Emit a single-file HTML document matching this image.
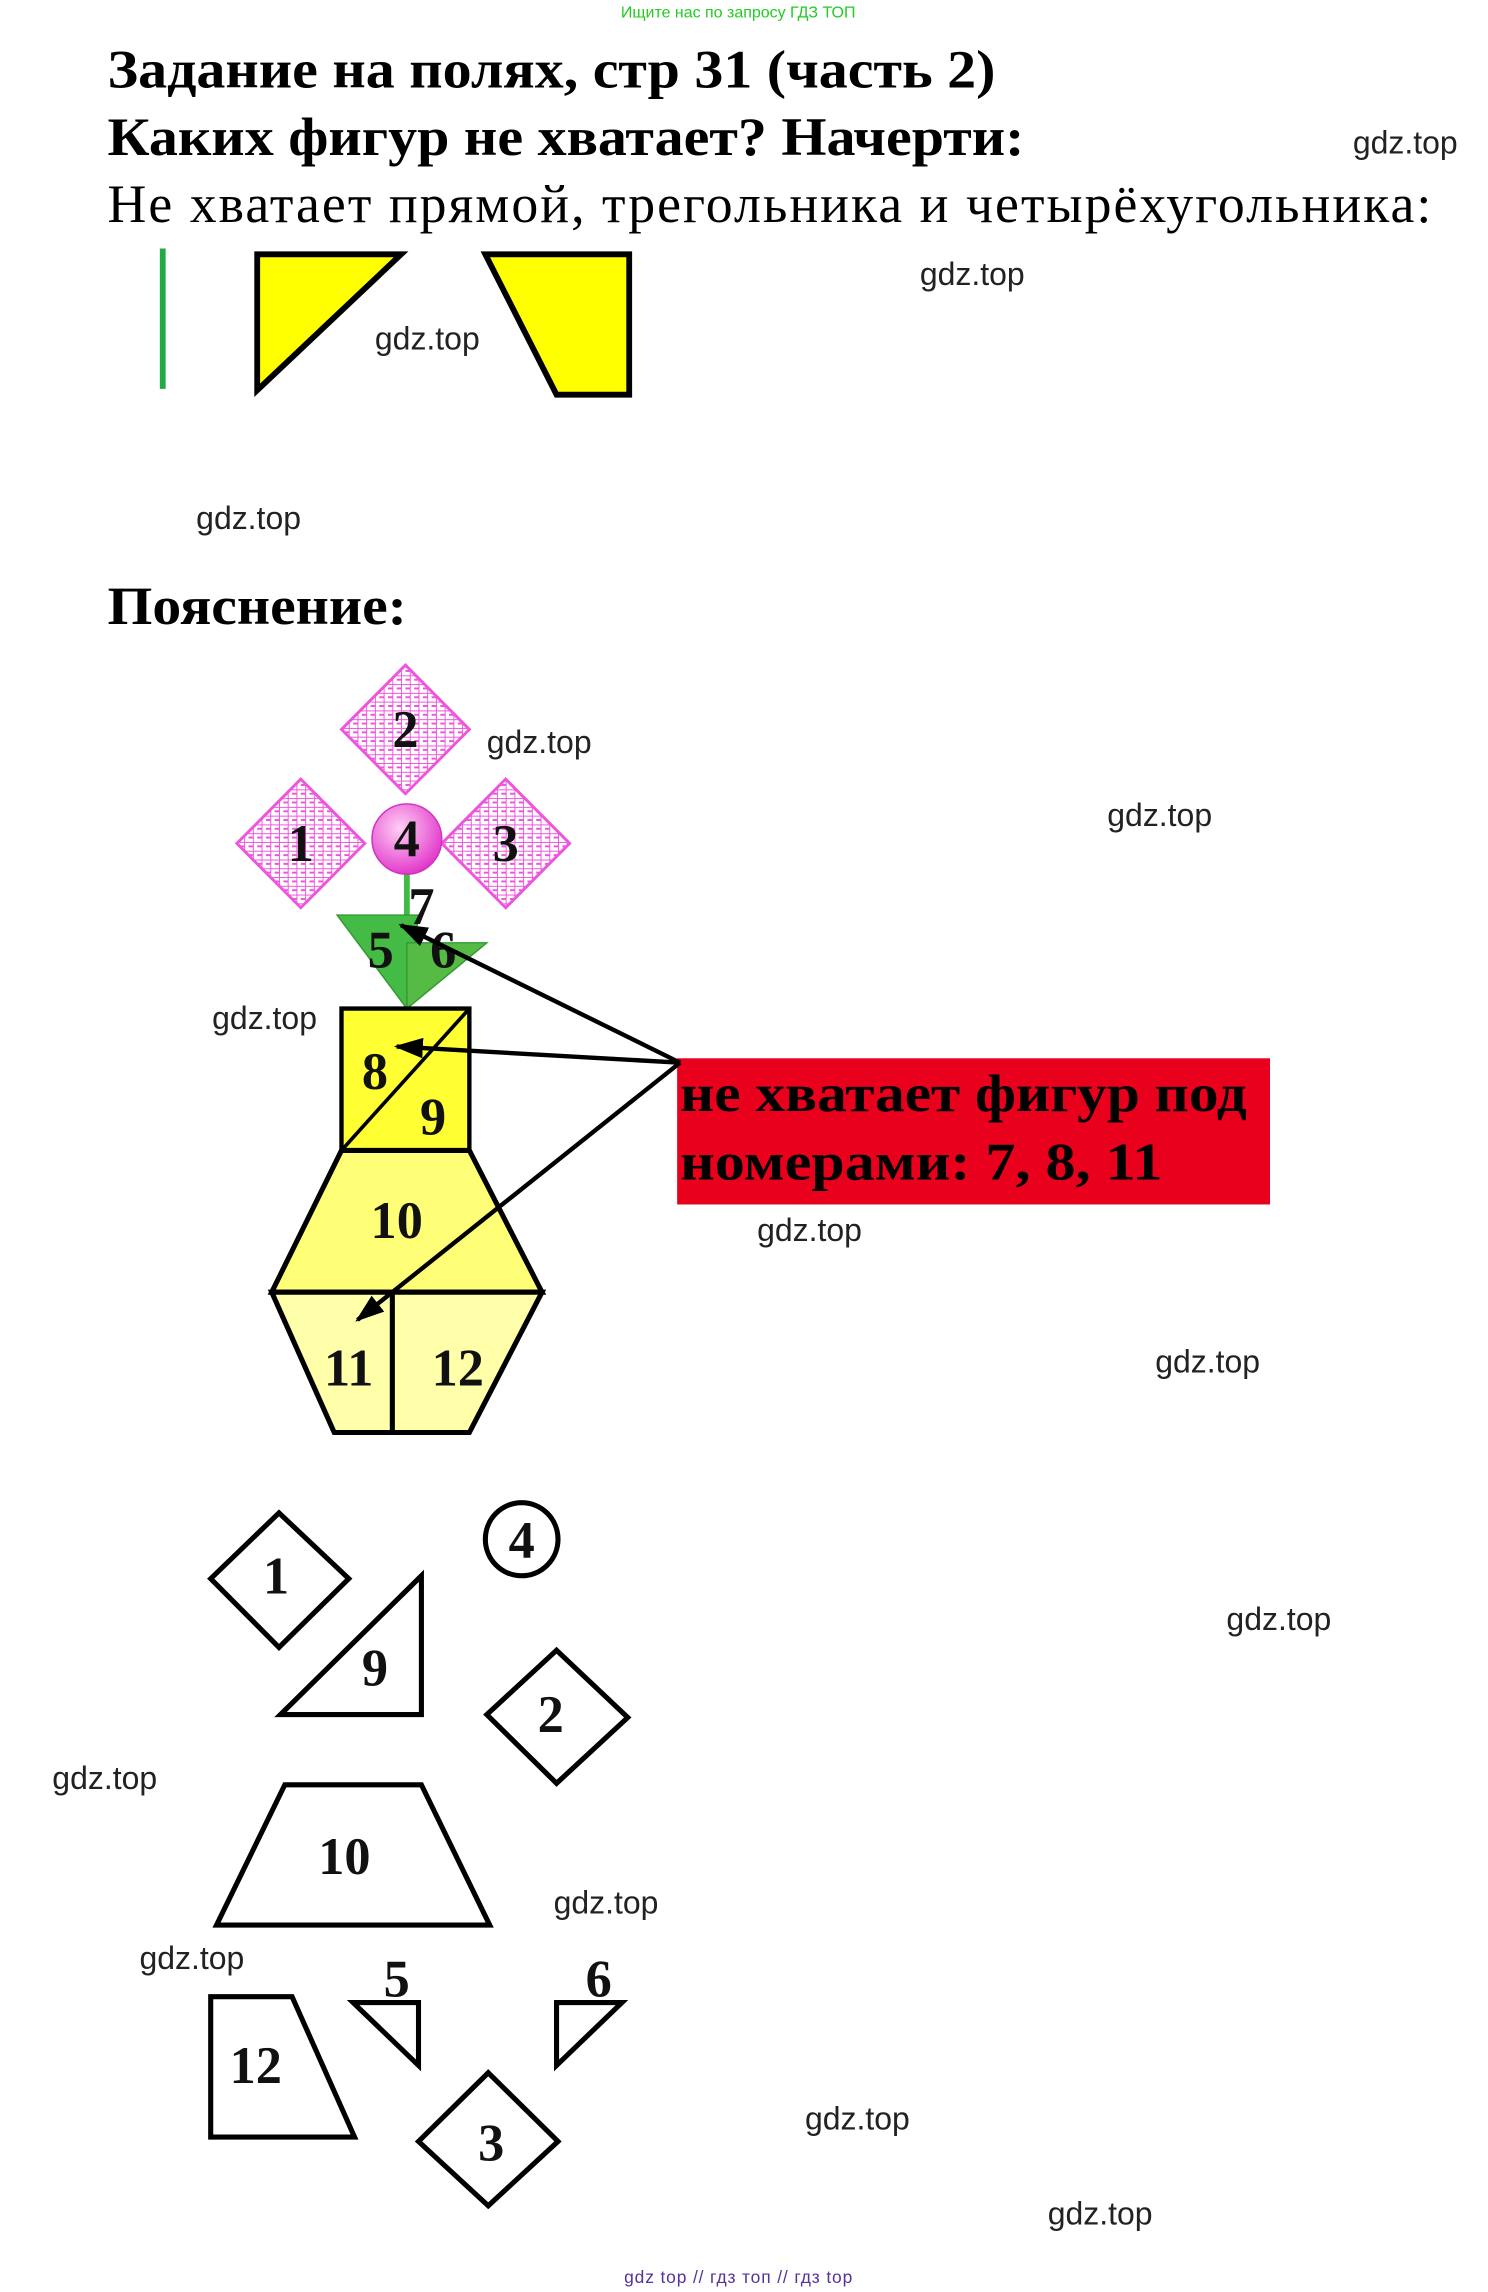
<!DOCTYPE html>
<html><head><meta charset="utf-8"><style>
html,body{margin:0;padding:0;background:#fff;}
svg{display:block;}
.t{font-family:"Liberation Serif",serif;font-weight:bold;fill:#000;}
.w{font-family:"Liberation Sans","DejaVu Sans",sans-serif;font-size:22px;fill:#222;}
.n{font-family:"Liberation Serif",serif;font-weight:bold;font-size:36px;fill:#111;text-anchor:middle;}
</style></head><body>
<svg width="1488" height="2292" viewBox="0 0 1024 1568" preserveAspectRatio="none" xmlns="http://www.w3.org/2000/svg">
<defs>
<pattern id="hp" width="6" height="6" patternUnits="userSpaceOnUse">
<rect width="6" height="6" fill="#fff"/>
<path d="M0 0H6M0 0V6M3 3H6" stroke="#ee55dd" stroke-width="1.3"/>
</pattern>
<radialGradient id="pg" cx="0.4" cy="0.35" r="0.7"><stop offset="0" stop-color="#ffd0f5"/><stop offset="1" stop-color="#e030c8"/></radialGradient>
<marker id="ah" markerWidth="20" markerHeight="14" refX="18" refY="7" orient="auto" markerUnits="userSpaceOnUse" viewBox="0 0 20 14"><path d="M0 0L20 7L0 14Z" fill="#000"/></marker>
</defs>
<text x="508" y="12" font-family="Liberation Sans, sans-serif" font-size="11" fill="#22cc22" text-anchor="middle">Ищите нас по запросу ГДЗ ТОП</text>
<text class="t" x="74" y="60" font-size="37" textLength="611" lengthAdjust="spacingAndGlyphs">Задание на полях, стр 31 (часть 2)</text>
<text class="t" x="74" y="106" font-size="37" textLength="631" lengthAdjust="spacingAndGlyphs">Каких фигур не хватает? Начерти:</text>
<text x="74" y="152" font-family="Liberation Serif,serif" font-size="37" fill="#000" textLength="911">Не хватает прямой, трегольника и четырёхугольника:</text>
<line x1="112" y1="170" x2="112" y2="266" stroke="#22aa44" stroke-width="4"/>
<path d="M177 174L276 174L177 267Z" fill="#ffff00" stroke="#000" stroke-width="4"/>
<path d="M334 174L433 174L433 270L383 270Z" fill="#ffff00" stroke="#000" stroke-width="4"/>
<text class="t" x="74" y="427" font-size="37" textLength="206" lengthAdjust="spacingAndGlyphs">Пояснение:</text>

<path d="M279 455L323 499L279 543L235 499Z" fill="url(#hp)" stroke="#ee55dd" stroke-width="2"/>
<path d="M207 533L251 577L207 621L163 577Z" fill="url(#hp)" stroke="#ee55dd" stroke-width="2"/>
<path d="M348 533L392 577L348 621L304 577Z" fill="url(#hp)" stroke="#ee55dd" stroke-width="2"/>
<text class="n" x="279" y="511">2</text><text class="n" x="207" y="589">1</text><text class="n" x="348" y="589">3</text>
<line x1="280" y1="598" x2="280" y2="690" stroke="#44bb44" stroke-width="4"/>
<path d="M232 626L288 626L280 690Z" fill="#44bb44" stroke="#339933" stroke-width="1"/>
<path d="M280 645L335 645L280 690Z" fill="#55bb44" stroke="#339933" stroke-width="1"/>
<circle cx="280" cy="574" r="24" fill="url(#pg)" stroke="#d030c0"/>
<text class="n" x="280" y="586">4</text>
<text class="n" x="290" y="632">7</text><text class="n" x="262" y="662">5</text><text class="n" x="305" y="662">6</text>
<path d="M235 690L323 690L323 787L235 787Z" fill="#ffff33" stroke="#000" stroke-width="3"/>
<line x1="323" y1="690" x2="235" y2="787" stroke="#000" stroke-width="2.5"/>
<path d="M235 787L323 787L373 884L187 884Z" fill="#ffff77" stroke="#000" stroke-width="3.5"/>
<path d="M187 884L373 884L323 980L230 980Z" fill="#ffffaa" stroke="#000" stroke-width="3.5"/>
<line x1="270" y1="884" x2="270" y2="980" stroke="#000" stroke-width="3.5"/>
<text class="n" x="258" y="745">8</text><text class="n" x="298" y="776">9</text>
<text class="n" x="273" y="847">10</text><text class="n" x="240" y="948">11</text><text class="n" x="315" y="948">12</text>
<rect x="466" y="724" width="408" height="100" fill="#e8001c"/>
<text class="t" x="468" y="760" font-size="36" fill="#2a0000" textLength="390" lengthAdjust="spacingAndGlyphs">не хватает фигур под</text>
<text class="t" x="468" y="807" font-size="36" fill="#2a0000" textLength="332" lengthAdjust="spacingAndGlyphs">номерами: 7, 8, 11</text>
<g stroke="#000" stroke-width="3" marker-end="url(#ah)">
<line x1="468" y1="727" x2="276" y2="633"/>
<line x1="468" y1="727" x2="273" y2="716"/>
<line x1="468" y1="727" x2="246" y2="903"/>
</g>

<g fill="none" stroke="#000" stroke-width="3.5">
<path d="M145 1080L192 1035L240 1080L192 1127Z"/>
<circle cx="359" cy="1053" r="25"/>
<path d="M193 1173L290 1173L290 1078Z"/>
<path d="M335 1173L383 1129L432 1175L383 1220Z"/>
<path d="M149 1317L337 1317L290 1221L196 1221Z"/>
<path d="M145 1366L201 1366L244 1462L145 1462Z"/>
<path d="M243 1370L288 1370L288 1413Z"/>
<path d="M383 1370L428 1370L383 1413Z"/>
<path d="M288 1465L336 1418L384 1465L336 1509Z"/>
</g>
<text class="n" x="190" y="1090">1</text><text class="n" x="359" y="1066">4</text>
<text class="n" x="258" y="1153">9</text><text class="n" x="379" y="1185">2</text>
<text class="n" x="237" y="1282">10</text><text class="n" x="176" y="1425">12</text>
<text class="n" x="273" y="1366">5</text><text class="n" x="412" y="1366">6</text>
<text class="n" x="338" y="1478">3</text>

<text class="w" x="931" y="105">gdz.top</text><text class="w" x="633" y="195">gdz.top</text>
<text class="w" x="258" y="239">gdz.top</text><text class="w" x="135" y="362">gdz.top</text>
<text class="w" x="335" y="515">gdz.top</text><text class="w" x="762" y="565">gdz.top</text>
<text class="w" x="146" y="704">gdz.top</text><text class="w" x="521" y="849">gdz.top</text>
<text class="w" x="795" y="939">gdz.top</text><text class="w" x="844" y="1115">gdz.top</text>
<text class="w" x="36" y="1224">gdz.top</text><text class="w" x="381" y="1309">gdz.top</text>
<text class="w" x="96" y="1347">gdz.top</text><text class="w" x="554" y="1457">gdz.top</text>
<text class="w" x="721" y="1522">gdz.top</text>
<text x="508" y="1562" font-family="Liberation Sans,sans-serif" font-size="12" fill="#553399" text-anchor="middle" textLength="157">gdz top  //  гдз топ  //  гдз top</text>
</svg>
</body></html>
